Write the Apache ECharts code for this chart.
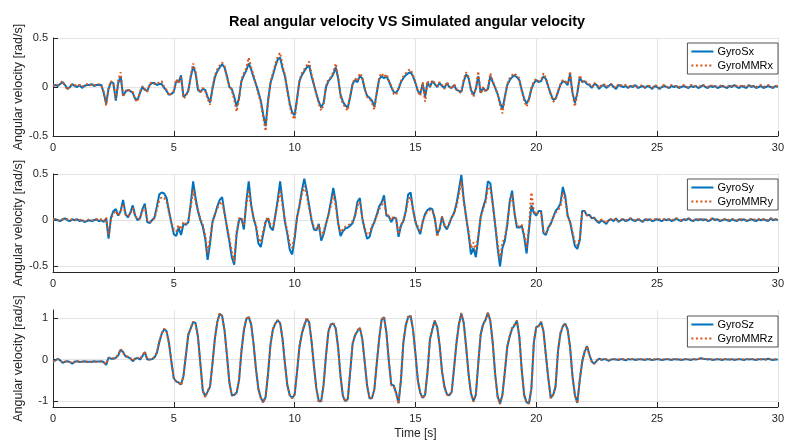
<!DOCTYPE html>
<html>
<head>
<meta charset="utf-8" />
<title>Real angular velocity VS Simulated angular velocity</title>
<script src="https://cdn.jsdelivr.net/npm/echarts@6/dist/echarts.min.js"></script>
<style>
  html, body { margin: 0; padding: 0; background: #ffffff; }
  #chart { width: 787px; height: 441px; }
</style>
</head>
<body>
<div id="chart"></div>
<script>
// sample step of the recordings [s]
const dt = 0.1;

// one row per second, 10 samples each (last row is t = 30 s)
const gyroSx = [
  0.01, 0.02, 0.01, 0.03, 0.05, 0.02, -0.02, 0.00, 0.03, 0.01,
  0.00, 0.02, -0.01, 0.01, 0.02, 0.02, 0.03, 0.01, 0.02, 0.02,
  0.02, -0.06, -0.17, -0.02, 0.05, 0.04, -0.14, 0.04, 0.11, -0.09,
  -0.05, -0.03, -0.04, -0.06, -0.12, -0.13, -0.06, 0.00, -0.03, -0.04,
  0.02, 0.04, 0.04, 0.02, 0.03, 0.03, -0.01, -0.04, -0.08, -0.07,
  -0.05, 0.06, 0.05, 0.12, -0.10, -0.08, -0.04, 0.10, 0.21, 0.14,
  -0.03, -0.05, -0.02, -0.03, -0.10, -0.16, -0.02, 0.10, 0.16, 0.20,
  0.23, 0.20, 0.11, 0.00, -0.02, -0.10, -0.20, -0.11, 0.06, 0.12,
  0.17, 0.24, 0.18, 0.10, 0.03, -0.05, -0.14, -0.28, -0.40, -0.14,
  0.04, 0.12, 0.21, 0.28, 0.30, 0.19, 0.11, -0.03, -0.17, -0.26,
  -0.29, -0.12, 0.06, 0.12, 0.16, 0.20, 0.22, 0.11, 0.02, -0.07,
  -0.15, -0.21, -0.16, 0.00, 0.06, 0.09, 0.13, 0.20, 0.09, -0.08,
  -0.15, -0.19, -0.21, -0.10, 0.03, 0.07, 0.05, 0.11, 0.09, -0.02,
  -0.09, -0.11, -0.14, -0.20, -0.06, 0.08, 0.11, 0.09, 0.11, 0.06,
  0.00, -0.05, -0.06, -0.02, 0.05, 0.09, 0.12, 0.14, 0.15, 0.11,
  0.04, -0.04, -0.07, 0.03, -0.10, 0.05, 0.00, 0.06, 0.03, 0.00,
  0.04, 0.01, -0.01, 0.04, 0.00, -0.01, 0.02, -0.03, -0.04, -0.05,
  0.06, 0.13, 0.09, -0.03, -0.08, -0.02, 0.11, -0.06, -0.01, -0.04,
  -0.02, 0.11, 0.05, -0.01, -0.07, -0.16, -0.23, -0.10, 0.02, 0.07,
  0.10, 0.12, 0.10, 0.07, -0.03, -0.12, -0.17, -0.12, -0.02, 0.04,
  0.07, 0.05, 0.06, 0.11, 0.08, 0.00, -0.07, -0.13, -0.12, -0.05,
  0.02, 0.06, 0.05, 0.02, 0.13, -0.06, -0.16, -0.06, 0.10, 0.05,
  0.06, 0.03, 0.02, -0.01, 0.03, 0.02, -0.02, 0.01, 0.02, -0.01,
  0.01, 0.03, 0.00, -0.02, 0.02, 0.01, 0.00, 0.01, -0.01, 0.01,
  0.00, 0.02, -0.01, 0.00, 0.01, -0.01, 0.01, 0.00, -0.02, 0.01,
  0.00, -0.02, 0.00, 0.01, 0.00, -0.01, 0.01, 0.00, 0.01, -0.01,
  0.00, 0.01, 0.00, -0.01, 0.01, 0.00, 0.01, -0.01, 0.00, 0.02,
  0.00, -0.01, 0.01, 0.00, 0.01, -0.01, 0.00, 0.01, 0.00, -0.01,
  0.01, 0.00, 0.02, 0.00, -0.01, 0.01, 0.00, -0.01, 0.02, 0.00,
  0.01, -0.01, 0.00, 0.01, -0.01, 0.00, 0.01, 0.00, -0.01, 0.01,
  0.00
];
const gyroMMRx = [
  0.02, 0.01, 0.02, 0.04, 0.06, 0.01, -0.03, 0.01, 0.03, 0.02,
  0.01, 0.02, 0.00, 0.02, 0.03, 0.01, 0.03, 0.02, 0.02, 0.03,
  0.01, -0.05, -0.19, 0.00, 0.06, 0.03, -0.12, 0.07, 0.15, -0.10,
  -0.04, -0.02, -0.05, -0.05, -0.13, -0.15, -0.05, 0.01, -0.02, -0.05,
  0.03, 0.05, 0.03, 0.03, 0.05, 0.06, 0.00, -0.03, -0.09, -0.06,
  -0.04, 0.08, 0.04, 0.10, -0.11, -0.10, -0.03, 0.12, 0.24, 0.16,
  -0.01, -0.06, -0.01, -0.04, -0.12, -0.18, 0.00, 0.12, 0.18, 0.22,
  0.25, 0.21, 0.10, 0.01, -0.03, -0.13, -0.25, -0.12, 0.08, 0.14,
  0.19, 0.30, 0.20, 0.12, 0.02, -0.07, -0.16, -0.31, -0.45, -0.16,
  0.05, 0.14, 0.23, 0.31, 0.35, 0.22, 0.12, -0.05, -0.19, -0.29,
  -0.33, -0.13, 0.07, 0.14, 0.18, 0.22, 0.26, 0.13, 0.03, -0.08,
  -0.17, -0.24, -0.18, 0.01, 0.08, 0.10, 0.15, 0.24, 0.10, -0.10,
  -0.17, -0.21, -0.24, -0.09, 0.04, 0.09, 0.06, 0.14, 0.10, -0.01,
  -0.10, -0.12, -0.16, -0.23, -0.05, 0.10, 0.14, 0.10, 0.13, 0.07,
  0.01, -0.07, -0.08, -0.01, 0.06, 0.11, 0.14, 0.17, 0.18, 0.12,
  0.05, -0.05, -0.09, 0.05, -0.15, 0.06, 0.01, 0.07, 0.04, 0.01,
  0.05, 0.02, -0.02, 0.05, 0.01, -0.02, 0.03, -0.02, -0.05, -0.06,
  0.08, 0.15, 0.10, -0.04, -0.10, -0.01, 0.16, -0.07, 0.00, -0.05,
  -0.01, 0.14, 0.06, 0.00, -0.08, -0.18, -0.27, -0.11, 0.03, 0.09,
  0.12, 0.14, 0.11, 0.09, -0.04, -0.14, -0.20, -0.13, -0.01, 0.06,
  0.08, 0.06, 0.07, 0.14, 0.09, 0.01, -0.08, -0.15, -0.13, -0.04,
  0.03, 0.07, 0.06, 0.03, 0.16, -0.07, -0.20, -0.07, 0.12, 0.06,
  0.07, 0.04, 0.03, 0.00, 0.04, 0.03, -0.01, 0.02, 0.03, 0.00,
  0.02, 0.03, 0.01, -0.01, 0.03, 0.02, 0.01, 0.02, 0.00, 0.01,
  0.01, 0.02, 0.00, 0.01, 0.02, 0.00, 0.01, 0.01, -0.01, 0.02,
  0.01, -0.01, 0.01, 0.02, 0.00, 0.00, 0.02, 0.01, 0.01, 0.00,
  0.01, 0.02, 0.00, 0.00, 0.02, 0.01, 0.01, 0.00, 0.01, 0.02,
  0.01, 0.00, 0.02, 0.01, 0.01, 0.00, 0.01, 0.02, 0.00, 0.00,
  0.02, 0.01, 0.02, 0.01, 0.00, 0.02, 0.01, 0.00, 0.02, 0.01,
  0.01, 0.00, 0.01, 0.02, 0.00, 0.01, 0.02, 0.00, 0.00, 0.01,
  0.01
];
const gyroSy = [
  0.00, 0.01, 0.00, -0.01, 0.01, 0.02, 0.00, -0.01, 0.01, 0.00,
  0.01, -0.01, 0.00, -0.02, -0.01, 0.00, -0.01, 0.00, 0.01, -0.01,
  0.00, -0.02, 0.02, -0.20, 0.03, 0.10, 0.12, 0.05, 0.10, 0.22,
  0.07, 0.03, 0.08, 0.16, 0.05, 0.00, 0.02, 0.12, 0.18, -0.02,
  -0.03, 0.00, 0.03, 0.15, 0.28, 0.30, 0.29, 0.24, 0.10, -0.03,
  -0.15, -0.17, -0.08, -0.16, -0.04, -0.05, -0.02, 0.18, 0.42, 0.24,
  0.10, 0.00, -0.07, -0.20, -0.43, -0.25, -0.02, 0.06, 0.15, 0.22,
  0.25, 0.08, -0.08, -0.23, -0.40, -0.48, -0.15, 0.00, 0.02, -0.10,
  0.20, 0.42, 0.17, 0.02, -0.07, -0.25, -0.29, -0.15, -0.02, 0.02,
  -0.08, -0.11, 0.05, 0.22, 0.42, 0.20, -0.02, -0.15, -0.32, -0.37,
  -0.20, 0.03, 0.16, 0.32, 0.45, 0.32, 0.16, 0.00, -0.10, -0.11,
  -0.04, -0.22, -0.15, -0.04, 0.06, 0.20, 0.35, 0.20, -0.03, -0.17,
  -0.12, -0.09, -0.08, -0.06, -0.03, 0.05, 0.20, 0.24, 0.02, -0.10,
  -0.20, -0.18, -0.08, -0.02, 0.06, 0.15, 0.19, 0.27, 0.05, 0.04,
  -0.02, 0.03, 0.02, -0.18, -0.06, -0.01, 0.10, 0.28, 0.30, 0.12,
  -0.02, -0.09, -0.15, -0.02, 0.07, 0.11, 0.13, 0.12, 0.02, -0.15,
  -0.10, 0.04, -0.06, -0.10, -0.04, 0.03, 0.08, 0.18, 0.33, 0.49,
  0.22, 0.03, -0.15, -0.37, -0.30, -0.40, -0.19, 0.04, 0.14, 0.22,
  0.42, 0.40, 0.18, -0.05, -0.30, -0.50, -0.30, -0.22, -0.05, 0.20,
  0.32, 0.08, -0.08, -0.08, -0.06, -0.18, -0.36, -0.10, 0.16, 0.08,
  0.05, 0.10, 0.10, -0.14, -0.16, -0.08, -0.04, 0.03, 0.10, 0.13,
  0.18, 0.36, 0.26, 0.05, -0.02, -0.15, -0.28, -0.31, -0.22, 0.10,
  0.10, 0.05, 0.06, 0.02, 0.03, -0.01, -0.03, 0.00, -0.02, -0.04,
  0.00, 0.01, -0.01, 0.02, -0.02, 0.00, 0.01, -0.01, 0.00, 0.02,
  0.00, -0.01, 0.01, 0.00, -0.02, 0.01, 0.00, 0.01, -0.01, 0.00,
  0.01, 0.00, -0.01, 0.01, 0.00, 0.01, -0.01, 0.00, 0.02, 0.00,
  -0.01, 0.01, 0.00, 0.02, 0.00, -0.01, 0.01, 0.00, 0.01, 0.00,
  0.01, -0.01, 0.00, 0.02, 0.00, 0.01, -0.01, 0.00, 0.01, 0.00,
  -0.01, 0.01, 0.00, -0.01, 0.01, 0.00, 0.01, -0.01, 0.00, 0.01,
  0.00, -0.01, 0.01, 0.00, 0.01, 0.00, -0.01, 0.02, 0.00, 0.01,
  0.00
];
const gyroMMRy = [
  0.01, 0.01, 0.00, 0.00, 0.01, 0.01, 0.01, 0.00, 0.01, 0.01,
  0.00, 0.00, 0.01, -0.01, 0.00, 0.01, 0.00, 0.00, 0.01, 0.00,
  0.01, -0.01, 0.03, -0.16, 0.02, 0.07, 0.10, 0.05, 0.09, 0.18,
  0.06, 0.04, 0.07, 0.13, 0.05, 0.01, 0.02, 0.10, 0.15, 0.00,
  -0.02, 0.00, 0.02, 0.12, 0.22, 0.25, 0.24, 0.20, 0.08, -0.02,
  -0.10, -0.12, -0.05, -0.10, -0.02, -0.04, 0.00, 0.14, 0.33, 0.20,
  0.10, 0.02, -0.05, -0.17, -0.36, -0.20, -0.01, 0.06, 0.13, 0.18,
  0.20, 0.07, -0.06, -0.20, -0.34, -0.45, -0.12, 0.02, 0.03, -0.06,
  0.16, 0.33, 0.14, 0.03, -0.05, -0.20, -0.24, -0.12, 0.00, 0.03,
  -0.05, -0.08, 0.05, 0.18, 0.33, 0.16, 0.00, -0.12, -0.26, -0.30,
  -0.16, 0.04, 0.14, 0.28, 0.37, 0.27, 0.13, 0.02, -0.08, -0.10,
  -0.05, -0.18, -0.12, -0.03, 0.06, 0.16, 0.28, 0.16, -0.02, -0.13,
  -0.10, -0.07, -0.06, -0.04, -0.01, 0.05, 0.16, 0.20, 0.03, -0.08,
  -0.16, -0.14, -0.06, -0.01, 0.05, 0.12, 0.16, 0.22, 0.05, 0.05,
  0.00, 0.04, 0.02, -0.15, -0.05, 0.00, 0.08, 0.23, 0.25, 0.10,
  -0.01, -0.07, -0.13, -0.01, 0.06, 0.09, 0.11, 0.10, 0.02, -0.18,
  -0.08, 0.04, -0.05, -0.08, -0.03, 0.03, 0.07, 0.15, 0.28, 0.42,
  0.20, 0.03, -0.12, -0.30, -0.24, -0.33, -0.16, 0.03, 0.12, 0.19,
  0.36, 0.34, 0.16, -0.04, -0.25, -0.42, -0.25, -0.18, -0.04, 0.17,
  0.28, 0.07, -0.06, -0.07, -0.05, -0.15, -0.30, -0.06, 0.30, 0.10,
  0.06, 0.09, 0.08, -0.12, -0.14, -0.07, -0.03, 0.03, 0.08, 0.11,
  0.15, 0.30, 0.22, 0.04, -0.02, -0.13, -0.24, -0.27, -0.20, 0.08,
  0.10, 0.05, 0.05, 0.03, 0.02, 0.00, -0.02, 0.01, -0.01, -0.03,
  0.01, 0.01, 0.00, 0.02, -0.01, 0.01, 0.01, 0.00, 0.01, 0.02,
  0.01, 0.00, 0.01, 0.01, -0.01, 0.01, 0.01, 0.01, 0.00, 0.01,
  0.01, 0.01, 0.00, 0.01, 0.01, 0.01, 0.00, 0.01, 0.02, 0.01,
  0.00, 0.01, 0.01, 0.02, 0.01, 0.00, 0.01, 0.01, 0.01, 0.01,
  0.01, 0.00, 0.01, 0.02, 0.01, 0.01, 0.00, 0.01, 0.01, 0.01,
  0.00, 0.01, 0.01, 0.00, 0.01, 0.01, 0.01, 0.00, 0.01, 0.01,
  0.01, 0.00, 0.01, 0.01, 0.01, 0.01, 0.00, 0.02, 0.01, 0.01,
  0.01
];
const gyroSz = [
  -0.05, -0.02, 0.02, -0.02, -0.08, -0.05, -0.04, -0.06, -0.10, -0.05,
  -0.04, -0.06, -0.05, -0.04, -0.06, -0.05, -0.06, -0.04, -0.05, -0.05,
  -0.04, -0.06, -0.13, 0.05, 0.02, 0.02, 0.04, 0.10, 0.24, 0.18,
  0.08, 0.06, 0.03, -0.04, 0.02, 0.04, 0.00, 0.08, 0.18, 0.00,
  0.00, 0.01, 0.05, 0.16, 0.42, 0.62, 0.73, 0.68, 0.40, -0.05,
  -0.45, -0.53, -0.55, -0.60, -0.40, 0.10, 0.60, 0.75, 0.90, 0.88,
  0.55, -0.10, -0.75, -0.88, -0.77, -0.65, -0.10, 0.50, 0.90, 1.10,
  1.05, 0.70, 0.10, -0.55, -0.85, -0.85, -0.80, -0.50, 0.20, 0.70,
  0.97, 1.02, 0.85, 0.38, -0.22, -0.70, -0.92, -1.02, -0.90, -0.35,
  0.35, 0.72, 0.86, 0.94, 0.88, 0.50, -0.10, -0.62, -0.86, -0.92,
  -0.85, -0.30, 0.30, 0.62, 0.82, 0.98, 0.90, 0.45, -0.15, -0.70,
  -1.00, -1.00, -0.60, 0.10, 0.68, 0.84, 0.87, 0.75, 0.30, -0.40,
  -0.88, -1.00, -0.95, -0.30, 0.38, 0.58, 0.68, 0.76, 0.50, -0.05,
  -0.62, -0.93, -0.93, -0.72, -0.10, 0.50, 0.95, 1.02, 0.65, -0.04,
  -0.60, -0.62, -0.80, -1.05, -0.50, 0.40, 0.82, 1.02, 1.05, 0.72,
  0.15, -0.50, -0.80, -0.92, -0.85, -0.30, 0.48, 0.72, 0.93, 0.78,
  0.36, -0.28, -0.65, -0.83, -0.86, -0.78, -0.20, 0.40, 0.85, 1.10,
  0.88, 0.30, -0.35, -0.82, -1.00, -0.85, -0.10, 0.60, 0.84, 0.95,
  1.12, 0.93, 0.40, -0.35, -0.88, -1.06, -0.85, -0.30, 0.30, 0.55,
  0.74, 0.82, 0.93, 0.55, -0.25, -0.85, -1.03, -1.05, -0.70, 0.40,
  0.78, 0.80, 0.90, 0.68, 0.10, -0.45, -0.92, -0.85, -0.65, 0.20,
  0.62, 0.80, 0.86, 0.72, 0.30, -0.40, -0.85, -1.04, -0.50, -0.06,
  0.18, 0.32, 0.12, -0.05, -0.10, -0.03, 0.02, -0.01, 0.01, 0.00,
  -0.03, 0.00, 0.01, 0.00, -0.01, 0.01, 0.00, -0.02, 0.01, 0.00,
  0.01, -0.01, 0.00, 0.01, 0.00, -0.01, 0.01, 0.00, -0.01, 0.00,
  0.01, 0.00, -0.01, 0.00, 0.01, 0.00, -0.01, 0.01, 0.00, 0.00,
  -0.01, 0.00, 0.01, 0.00, -0.01, 0.01, 0.00, 0.01, 0.03, 0.02,
  0.01, 0.00, 0.01, -0.01, 0.00, 0.01, 0.00, -0.01, 0.01, 0.00,
  0.00, 0.01, -0.01, 0.00, 0.01, 0.00, -0.01, 0.01, 0.00, 0.01,
  0.00, -0.01, 0.01, 0.00, 0.01, 0.00, 0.02, 0.00, -0.01, 0.00,
  0.00
];
const gyroMMRz = [
  -0.04, -0.03, 0.01, -0.02, -0.07, -0.05, -0.05, -0.06, -0.09, -0.05,
  -0.05, -0.05, -0.06, -0.04, -0.05, -0.05, -0.05, -0.04, -0.06, -0.05,
  -0.05, -0.07, -0.11, 0.04, 0.02, 0.03, 0.05, 0.12, 0.25, 0.16,
  0.08, 0.07, 0.03, -0.03, 0.03, 0.04, 0.01, 0.09, 0.20, 0.01,
  0.00, 0.02, 0.06, 0.18, 0.44, 0.63, 0.74, 0.67, 0.38, -0.07,
  -0.46, -0.52, -0.55, -0.62, -0.38, 0.12, 0.61, 0.76, 0.91, 0.86,
  0.52, -0.13, -0.76, -0.90, -0.76, -0.63, -0.08, 0.52, 0.92, 1.12,
  1.04, 0.68, 0.07, -0.57, -0.87, -0.84, -0.79, -0.47, 0.23, 0.72,
  0.98, 1.04, 0.84, 0.35, -0.25, -0.72, -0.93, -1.04, -0.88, -0.32,
  0.38, 0.74, 0.87, 0.95, 0.87, 0.47, -0.13, -0.64, -0.87, -0.93,
  -0.83, -0.27, 0.33, 0.64, 0.84, 1.00, 0.89, 0.42, -0.18, -0.72,
  -1.02, -0.99, -0.57, 0.13, 0.70, 0.85, 0.88, 0.74, 0.27, -0.43,
  -0.90, -1.01, -0.94, -0.27, 0.40, 0.59, 0.70, 0.77, 0.48, -0.08,
  -0.64, -0.94, -0.92, -0.70, -0.07, 0.53, 0.97, 1.03, 0.62, -0.07,
  -0.62, -0.63, -0.82, -1.06, -0.47, 0.43, 0.84, 1.03, 1.06, 0.70,
  0.12, -0.52, -0.82, -0.93, -0.84, -0.27, 0.50, 0.74, 0.94, 0.76,
  0.33, -0.31, -0.67, -0.84, -0.87, -0.76, -0.17, 0.43, 0.87, 1.12,
  0.86, 0.27, -0.38, -0.84, -1.01, -0.83, -0.07, 0.62, 0.85, 0.97,
  1.13, 0.91, 0.37, -0.38, -0.90, -1.07, -0.83, -0.27, 0.32, 0.57,
  0.76, 0.84, 0.94, 0.52, -0.28, -0.87, -1.04, -1.06, -0.67, 0.43,
  0.80, 0.81, 0.91, 0.66, 0.07, -0.48, -0.93, -0.84, -0.62, 0.23,
  0.64, 0.81, 0.87, 0.70, 0.27, -0.43, -0.87, -1.05, -0.47, -0.04,
  0.20, 0.33, 0.10, -0.06, -0.10, -0.02, 0.02, 0.00, 0.01, 0.01,
  -0.02, 0.01, 0.01, 0.00, 0.00, 0.01, 0.01, -0.01, 0.01, 0.01,
  0.01, 0.00, 0.01, 0.01, 0.00, 0.00, 0.01, 0.01, 0.00, 0.00,
  0.01, 0.01, 0.00, 0.00, 0.01, 0.01, 0.00, 0.01, 0.01, 0.00,
  0.00, 0.01, 0.01, 0.00, 0.00, 0.01, 0.01, 0.01, 0.03, 0.02,
  0.01, 0.01, 0.01, 0.00, 0.00, 0.01, 0.01, 0.00, 0.01, 0.01,
  0.00, 0.01, 0.00, 0.01, 0.01, 0.00, 0.00, 0.01, 0.01, 0.01,
  0.01, 0.00, 0.01, 0.01, 0.01, 0.00, 0.02, 0.01, 0.00, 0.01,
  0.01
];

// axis ticks
const timeTicks = [0, 5, 10, 15, 20, 25, 30];
const yTicksXY = [-0.5, 0, 0.5];
const yTicksZ = [-1, 0, 1];

const blue = "#0072BD";
const orange = "#D95319";
const axisColor = "#262626";
const gridColor = "#e3e3e3";
const font = "Liberation Sans";

const pairs = (arr) => arr.map((v, i) => [+(i * dt).toFixed(1), v]);

const makeX = (gridIndex, showName) => ({
  type: "value",
  gridIndex: gridIndex,
  min: 0,
  max: 30,
  axisLine: { show: true, onZero: false, lineStyle: { color: axisColor, width: 1 } },
  axisTick: { show: true, inside: true, length: 5, customValues: timeTicks, lineStyle: { color: axisColor } },
  axisLabel: { customValues: timeTicks, color: axisColor, fontSize: 11, margin: 6, fontFamily: font },
  splitLine: { show: true, lineStyle: { color: gridColor, width: 1 } },
  name: showName ? "Time [s]" : "",
  nameLocation: "middle",
  nameGap: 21,
  nameMoveOverlap: false,
  nameTextStyle: { color: axisColor, fontSize: 12, fontFamily: font },
});

const makeY = (gridIndex, min, max, ticks) => ({
  type: "value",
  gridIndex: gridIndex,
  min: min,
  max: max,
  axisLine: { show: true, lineStyle: { color: axisColor, width: 1 } },
  axisTick: { show: true, inside: true, length: 5, customValues: ticks, lineStyle: { color: axisColor } },
  axisLabel: { customValues: ticks, color: axisColor, fontSize: 11, margin: 5, fontFamily: font },
  splitLine: { show: true, lineStyle: { color: gridColor, width: 1 } },
  name: "Angular velocity [rad/s]",
  nameLocation: "middle",
  nameGap: 28,
  nameMoveOverlap: false,
  nameTextStyle: { color: axisColor, fontSize: 12.5, fontFamily: font },
});

// legend shows the series line only; the marker is made invisible
const makeLegend = (top, names) => ({
  data: names,
  orient: "vertical",
  right: 9,
  top: top,
  itemWidth: 22,
  itemHeight: 11,
  itemGap: 3,
  itemStyle: { opacity: 0 },
  padding: [3, 5, 3, 3],
  backgroundColor: "#ffffff",
  borderColor: axisColor,
  borderWidth: 0.8,
  borderRadius: 0,
  textStyle: { color: "#000000", fontSize: 11, fontFamily: font, padding: [0, 0, 0, -1] },
});

const solid = (name, data, idx) => ({
  name: name,
  type: "line",
  xAxisIndex: idx,
  yAxisIndex: idx,
  data: pairs(data),
  symbol: "none",
  lineStyle: { color: blue, width: 2 },
  itemStyle: { color: blue },
});
const dotted = (name, data, idx) => ({
  name: name,
  type: "line",
  xAxisIndex: idx,
  yAxisIndex: idx,
  data: pairs(data),
  symbol: "none",
  lineStyle: { color: orange, width: 2, type: [2, 2.5] },
  itemStyle: { color: orange },
});

const myChart = echarts.init(document.getElementById("chart"));
const option = {
  animation: false,
  backgroundColor: "#ffffff",
  textStyle: { fontFamily: font },
  title: {
    text: "Real angular velocity VS Simulated angular velocity",
    left: 402,
    textAlign: "center",
    top: 9,
    textStyle: { fontSize: 14.5, fontWeight: "bold", color: "#000000", fontFamily: font },
  },
  legend: [
    makeLegend(43, ["GyroSx", "GyroMMRx"]),
    makeLegend(179, ["GyroSy", "GyroMMRy"]),
    makeLegend(316, ["GyroSz", "GyroMMRz"]),
  ],
  grid: [
    { left: 53, right: 4, top: 38, height: 98 },
    { left: 53, right: 4, top: 174, height: 98 },
    { left: 53, right: 4, top: 310, height: 98 },
  ],
  xAxis: [makeX(0, false), makeX(1, false), makeX(2, true)],
  yAxis: [
    makeY(0, -0.5, 0.5, yTicksXY),
    makeY(1, -0.56, 0.5, yTicksXY),
    makeY(2, -1.14, 1.19, yTicksZ),
  ],
  series: [
    solid("GyroSx", gyroSx, 0),
    dotted("GyroMMRx", gyroMMRx, 0),
    solid("GyroSy", gyroSy, 1),
    dotted("GyroMMRy", gyroMMRy, 1),
    solid("GyroSz", gyroSz, 2),
    dotted("GyroMMRz", gyroMMRz, 2),
  ],
};
myChart.setOption(option);
</script>
</body>
</html>
